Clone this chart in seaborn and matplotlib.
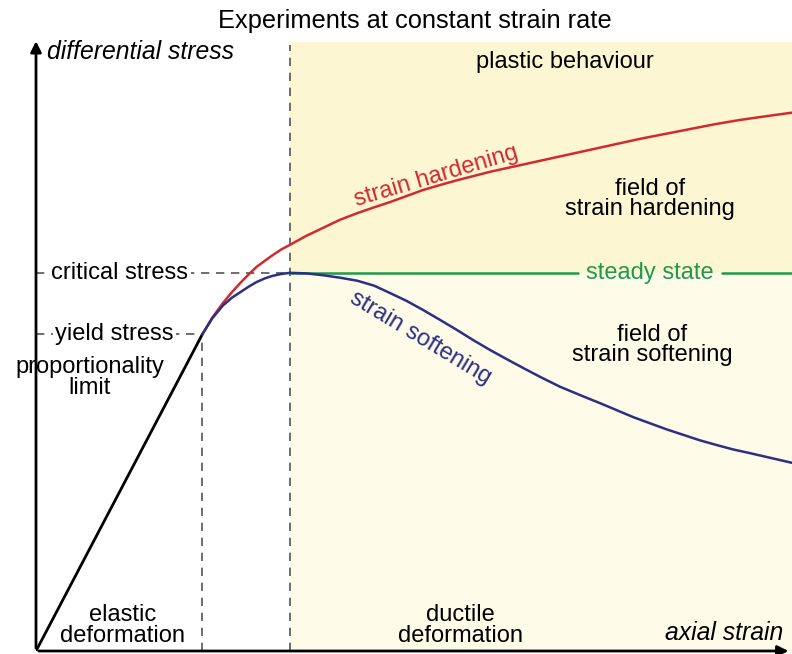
import numpy as np
import matplotlib.pyplot as plt
import seaborn as sns

# strain / stress in arbitrary units (0-100 on both axes)
yield_pt = (22.0, 52.0)
peak_pt = (33.6, 62.1)

elastic_x = [0.0, 22.0]
elastic_y = [0.0, 52.0]

hard_x = [22.0, 23.3, 24.7, 25.9, 27.0, 28.1, 29.2, 30.3, 31.3, 32.4, 33.6, 35.8, 38.0,
          40.2, 42.5, 44.6, 46.8, 49.0, 51.2, 53.4, 55.7, 57.9, 60.1, 63.4, 66.7,
          70.0, 73.3, 76.6, 79.9, 83.2, 86.5, 89.8, 93.1, 96.5, 100.0]
hard_y = [52.0, 54.7, 57.1, 58.9, 60.4, 61.8, 63.1, 64.1, 65.0, 65.9, 66.7, 68.2, 69.5,
          70.8, 71.9, 72.8, 73.7, 74.7, 75.7, 76.5, 77.3, 78.0, 78.7, 79.6, 80.5,
          81.4, 82.3, 83.2, 84.1, 84.9, 85.7, 86.5, 87.2, 87.8, 88.4]

soft_x = [22.0, 23.3, 24.7, 25.9, 27.0, 28.1, 29.2, 30.3, 31.3, 32.4, 33.6, 35.8, 38.0,
          40.2, 42.5, 44.7, 46.8, 49.0, 51.2, 53.4, 55.7, 57.9, 60.1, 62.3, 64.4,
          66.7, 69.3, 72.4, 74.6, 76.9, 79.0, 81.2, 83.4, 85.6, 87.8, 90.1, 92.2,
          94.4, 97.2, 100.0]
soft_y = [52.0, 54.6, 56.7, 58.0, 58.9, 59.8, 60.6, 61.2, 61.6, 61.9, 62.1, 62.0, 61.7,
          61.3, 60.8, 60.0, 58.8, 57.5, 56.0, 54.4, 52.7, 51.0, 49.4, 47.9, 46.5,
          45.0, 43.4, 41.8, 40.7, 39.5, 38.4, 37.4, 36.4, 35.5, 34.6, 33.8, 33.1,
          32.5, 31.7, 30.9]

steady_left = [33.6, 71.7]
steady_right = [90.7, 100.0]

RED = "#d12a2f"
BLUE = "#2b2f86"
GREEN = "#1f9a4d"
DASH = "#555555"

sns.set_style("white")
plt.rcParams["font.family"] = ["Liberation Sans", "DejaVu Sans"]
plt.rcParams["text.color"] = "black"

fig = plt.figure(figsize=(7.92, 6.54), dpi=100)
ax = fig.add_axes([36 / 792, 3 / 654, 756 / 792, 609 / 654])
ax.set_xlim(0, 100)
ax.set_ylim(0, 100)
ax.axis("off")

# plastic field background
ax.fill_between([peak_pt[0], 100], peak_pt[1], 100, color="#fdf6d2", lw=0, zorder=0)
ax.fill_between([peak_pt[0], 100], 0, peak_pt[1], color="#fefbe9", lw=0, zorder=0)

# guide lines
ax.plot([0, peak_pt[0]], [peak_pt[1], peak_pt[1]], color=DASH, lw=1.2, ls=(0, (5, 4)), zorder=1)
ax.plot([0, yield_pt[0]], [yield_pt[1], yield_pt[1]], color=DASH, lw=1.2, ls=(0, (5, 4)), zorder=1)
ax.plot([yield_pt[0], yield_pt[0]], [0, yield_pt[1]], color=DASH, lw=1.2, ls=(0, (5, 4)), zorder=1)
ax.plot([peak_pt[0], peak_pt[0]], [0, 99.5], color=DASH, lw=1.2, ls=(0, (5, 4)), zorder=1)

# curves
sns.lineplot(x=elastic_x, y=elastic_y, color="black", lw=2, ax=ax, zorder=3)
sns.lineplot(x=hard_x, y=hard_y, color=RED, lw=1.8, ax=ax, zorder=3)
sns.lineplot(x=soft_x, y=soft_y, color=BLUE, lw=1.8, ax=ax, zorder=3)
ax.plot(steady_left, [peak_pt[1]] * 2, color=GREEN, lw=1.8, zorder=2)
ax.plot(steady_right, [peak_pt[1]] * 2, color=GREEN, lw=1.8, zorder=2)

# axes arrows
arrow = dict(arrowstyle="-|>", lw=2, color="black", mutation_scale=16)
ax.annotate("", xy=(0, 100.6), xytext=(0, 0), arrowprops=arrow, annotation_clip=False)
ax.annotate("", xy=(99.9, 0), xytext=(0, 0), arrowprops=arrow, annotation_clip=False)

fs = 17
ls = 0.9
fig.text(415 / 792, 1 - 21 / 654, "Experiments at constant strain rate", ha="center", va="center", fontsize=18.3)
ax.text(1.45, 98.4, "differential stress", style="italic", ha="left", va="center", fontsize=17.8)
ax.text(98.8, 3.0, "axial strain", style="italic", ha="right", va="center", fontsize=17.8)
ax.text(11.4, 4.2, "elastic\ndeformation", ha="center", va="center", fontsize=fs, linespacing=ls)
ax.text(56.1, 4.2, "ductile\ndeformation", ha="center", va="center", fontsize=fs, linespacing=ls)
ax.text(70.0, 96.7, "plastic behaviour", ha="center", va="center", fontsize=fs)
ax.text(7.1, 44.9, "proportionality\nlimit", ha="center", va="center", fontsize=fs, linespacing=ls)
ax.text(11.1, peak_pt[1], "critical stress", ha="center", va="center", fontsize=fs,
        bbox=dict(facecolor="white", edgecolor="none", pad=1.5), zorder=2)
ax.text(10.4, yield_pt[1], "yield stress", ha="center", va="center", fontsize=fs,
        bbox=dict(facecolor="white", edgecolor="none", pad=1.5), zorder=2)
ax.text(81.2, peak_pt[1], "steady state", ha="center", va="center", fontsize=fs, color=GREEN)
ax.text(53.0, 77.9, "strain hardening", ha="center", va="center", fontsize=fs, color=RED,
        rotation=16.5, rotation_mode="anchor")
ax.text(50.8, 51.4, "strain softening", ha="center", va="center", fontsize=fs, color=BLUE,
        rotation=-31, rotation_mode="anchor")
ax.text(81.2, 74.2, "field of\nstrain hardening", ha="center", va="center", fontsize=fs, linespacing=ls)
ax.text(81.5, 50.2, "field of\nstrain softening", ha="center", va="center", fontsize=fs, linespacing=ls)

fig.savefig("out.png", dpi=100)
